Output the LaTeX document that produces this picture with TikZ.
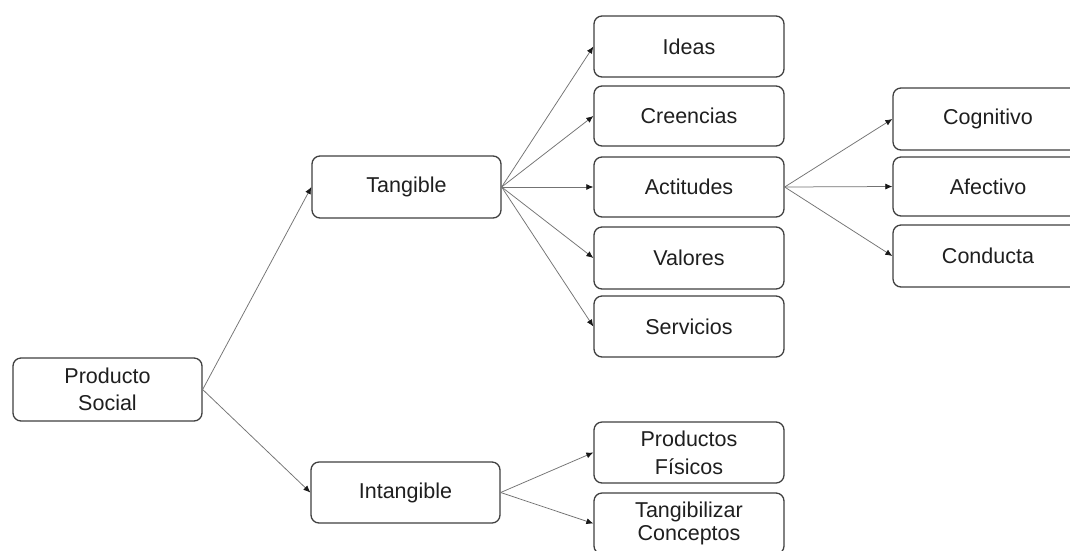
\documentclass[tikz,border=0pt]{standalone}
\usepackage{fontspec}
\setmainfont{Liberation Sans}
\usetikzlibrary{arrows.meta}
\begin{document}
\begin{tikzpicture}[x=1pt,y=-1pt,
  box/.style={draw=black!75, line width=1.3pt, rounded corners=8pt, fill=white,
    text=black!88, align=center, inner sep=0pt, minimum width=189pt,
    font=\fontsize{21.5}{27}\selectfont},
  conn/.style={draw=black!55, line width=0.75pt, -{Latex[length=7pt,width=6pt,color=black!90]}}]
\useasboundingbox (0,0) rectangle (1070,550);
\clip (0,0) rectangle (1070,550);
\fill[white] (0,0) rectangle (1070,550);
% nodes
\node[box, minimum height=63pt] (ps) at (107.5,389.5) {Producto\\Social};
\node[box, minimum height=62pt] (tang) at (406.5,187) {Tangible};
\node[box, minimum height=61pt] (intang) at (405.5,492.5) {Intangible};
\node[box, minimum width=190pt, minimum height=61pt] (ideas) at (689,46.5) {Ideas};
\node[box, minimum width=190pt, minimum height=60pt] (cree) at (689,116) {Creencias};
\node[box, minimum width=190pt, minimum height=60pt] (acti) at (689,187) {Actitudes};
\node[box, minimum width=190pt, minimum height=62pt] (valo) at (689,258) {Valores};
\node[box, minimum width=190pt, minimum height=61pt] (serv) at (689,326.5) {Servicios};
\node[box, minimum width=190pt, minimum height=61pt, font=\fontsize{21.5}{28}\selectfont] (prod) at (689,452.5) {Productos\\Físicos};
\node[box, minimum width=190pt, minimum height=61pt, font=\fontsize{21.5}{23}\selectfont] (tgbz) at (689,523.5) {Tangibilizar\\[-0.5pt]Conceptos};
\node[box, minimum width=190pt, minimum height=62pt] (cogn) at (988,119) {Cognitivo};
\node[box, minimum width=190pt, minimum height=59pt] (afec) at (988,186.5) {Afectivo};
\node[box, minimum width=190pt, minimum height=62pt] (cond) at (988,256) {Conducta};
% connectors
\draw[conn] (ps.east) -- (tang.west);
\draw[conn] (ps.east) -- (intang.west);
\foreach \t in {ideas,cree,acti,valo,serv}
  \draw[conn] (tang.east) -- (\t.west);
\foreach \t in {prod,tgbz}
  \draw[conn] (intang.east) -- (\t.west);
\foreach \t in {cogn,afec,cond}
  \draw[conn] (acti.east) -- (\t.west);
\end{tikzpicture}
\end{document}
